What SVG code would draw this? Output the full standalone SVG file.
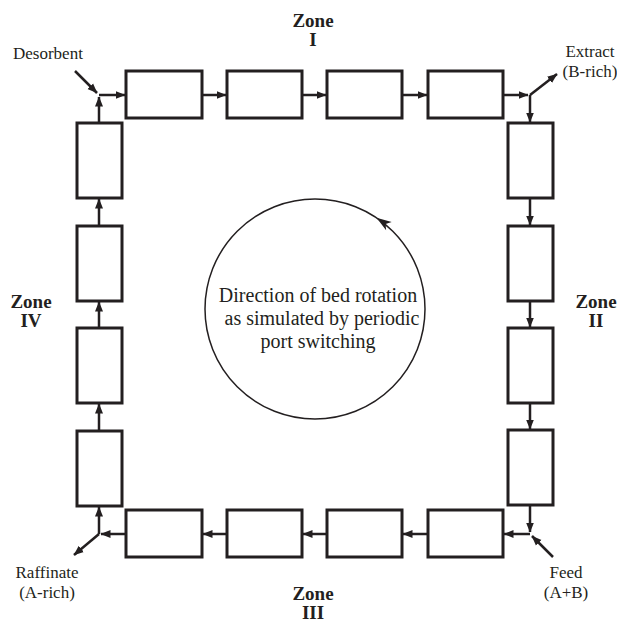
<svg xmlns="http://www.w3.org/2000/svg" width="617" height="623" viewBox="0 0 617 623">
<defs>
<marker id="ah" markerUnits="userSpaceOnUse" markerWidth="11" markerHeight="9" refX="9.5" refY="4.5" orient="auto">
<path d="M0,0.5 L10,4.5 L0,8.5 z" fill="#231f20"/>
</marker>
<style>
.bed{fill:#fff;stroke:#231f20;stroke-width:3}
.flow{fill:none;stroke:#231f20;stroke-width:2.5;marker-end:url(#ah)}
.lbl{font-family:"Liberation Serif","Times New Roman",serif;font-size:17px;fill:#231f20}
.zone{font-family:"Liberation Serif","Times New Roman",serif;font-size:19px;font-weight:bold;fill:#231f20;text-anchor:middle}
.mid{font-family:"Liberation Serif","Times New Roman",serif;font-size:20px;fill:#231f20;text-anchor:middle}
</style>
</defs>
<rect width="617" height="623" fill="#fff"/>

<g id="connectors">
<line class="flow" x1="75" y1="71" x2="97" y2="93"/>
<line class="flow" x1="99" y1="123" x2="99" y2="97"/>
<line class="flow" x1="99" y1="95" x2="125" y2="95"/>
<line class="flow" x1="202" y1="95" x2="226" y2="95"/>
<line class="flow" x1="302" y1="95" x2="326" y2="95"/>
<line class="flow" x1="402" y1="95" x2="427" y2="95"/>
<line class="flow" x1="503" y1="95" x2="528" y2="95"/>
<line class="flow" x1="530" y1="95" x2="557" y2="74"/>
<line class="flow" x1="530" y1="95" x2="530" y2="122"/>
<line class="flow" x1="530" y1="198" x2="530" y2="225"/>
<line class="flow" x1="530" y1="301" x2="530" y2="327"/>
<line class="flow" x1="530" y1="403" x2="530" y2="429"/>
<line class="flow" x1="530" y1="505" x2="530" y2="532"/>
<line class="flow" x1="553" y1="557" x2="532" y2="536"/>
<line class="flow" x1="530" y1="534" x2="504" y2="534"/>
<line class="flow" x1="428" y1="534" x2="403" y2="534"/>
<line class="flow" x1="327" y1="534" x2="303" y2="534"/>
<line class="flow" x1="227" y1="534" x2="203" y2="534"/>
<line class="flow" x1="126" y1="534" x2="101" y2="534"/>
<line class="flow" x1="99" y1="534" x2="74" y2="555"/>
<line class="flow" x1="99" y1="534" x2="99" y2="507"/>
<line class="flow" x1="99" y1="431" x2="99" y2="404"/>
<line class="flow" x1="99" y1="328" x2="99" y2="302"/>
<line class="flow" x1="99" y1="226" x2="99" y2="199"/>
</g>

<g id="bed-top-1"><rect class="bed" x="126" y="71" width="76" height="47"/></g>
<g id="bed-top-2"><rect class="bed" x="227" y="71" width="75" height="47"/></g>
<g id="bed-top-3"><rect class="bed" x="327" y="71" width="75" height="47"/></g>
<g id="bed-top-4"><rect class="bed" x="428" y="71" width="75" height="47"/></g>

<g id="bed-right-1"><rect class="bed" x="508" y="123" width="45" height="75"/></g>
<g id="bed-right-2"><rect class="bed" x="508" y="226" width="45" height="75"/></g>
<g id="bed-right-3"><rect class="bed" x="508" y="328" width="45" height="75"/></g>
<g id="bed-right-4"><rect class="bed" x="508" y="430" width="45" height="75"/></g>

<g id="bed-bottom-1"><rect class="bed" x="428" y="510" width="75" height="47"/></g>
<g id="bed-bottom-2"><rect class="bed" x="327" y="510" width="75" height="47"/></g>
<g id="bed-bottom-3"><rect class="bed" x="227" y="510" width="75" height="47"/></g>
<g id="bed-bottom-4"><rect class="bed" x="126" y="510" width="76" height="47"/></g>

<g id="bed-left-1"><rect class="bed" x="77" y="431" width="45" height="75"/></g>
<g id="bed-left-2"><rect class="bed" x="77" y="328" width="45" height="75"/></g>
<g id="bed-left-3"><rect class="bed" x="77" y="226" width="45" height="75"/></g>
<g id="bed-left-4"><rect class="bed" x="77" y="123" width="45" height="75"/></g>

<g id="desorbent"><text class="lbl" x="13" y="59">Desorbent</text></g>
<g id="extract"><text class="lbl" x="590" y="57" text-anchor="middle">Extract</text><text class="lbl" x="590" y="77" text-anchor="middle">(B-rich)</text></g>
<g id="raffinate"><text class="lbl" x="47" y="578" text-anchor="middle">Raffinate</text><text class="lbl" x="47" y="598" text-anchor="middle">(A-rich)</text></g>
<g id="feed"><text class="lbl" x="566" y="578" text-anchor="middle">Feed</text><text class="lbl" x="566" y="598" text-anchor="middle">(A+B)</text></g>

<g id="zone-1"><text class="zone" x="313" y="27">Zone</text><text class="zone" x="313" y="46">I</text></g>
<g id="zone-2"><text class="zone" x="596" y="308">Zone</text><text class="zone" x="596" y="327">II</text></g>
<g id="zone-3"><text class="zone" x="313" y="600">Zone</text><text class="zone" x="313" y="619">III</text></g>
<g id="zone-4"><text class="zone" x="31" y="308">Zone</text><text class="zone" x="31" y="327">IV</text></g>

<g id="rotation">
<circle cx="315" cy="309" r="110" fill="none" stroke="#231f20" stroke-width="1.5"/>
<path d="M376.5,217.8 L391.7,222.1 L385.6,223.9 L386.1,230.3 z" fill="#231f20"/>
<text class="mid" x="318" y="302">Direction of bed rotation</text>
<text class="mid" x="322" y="325">as simulated by periodic</text>
<text class="mid" x="318" y="348">port switching</text>
</g>
</svg>
